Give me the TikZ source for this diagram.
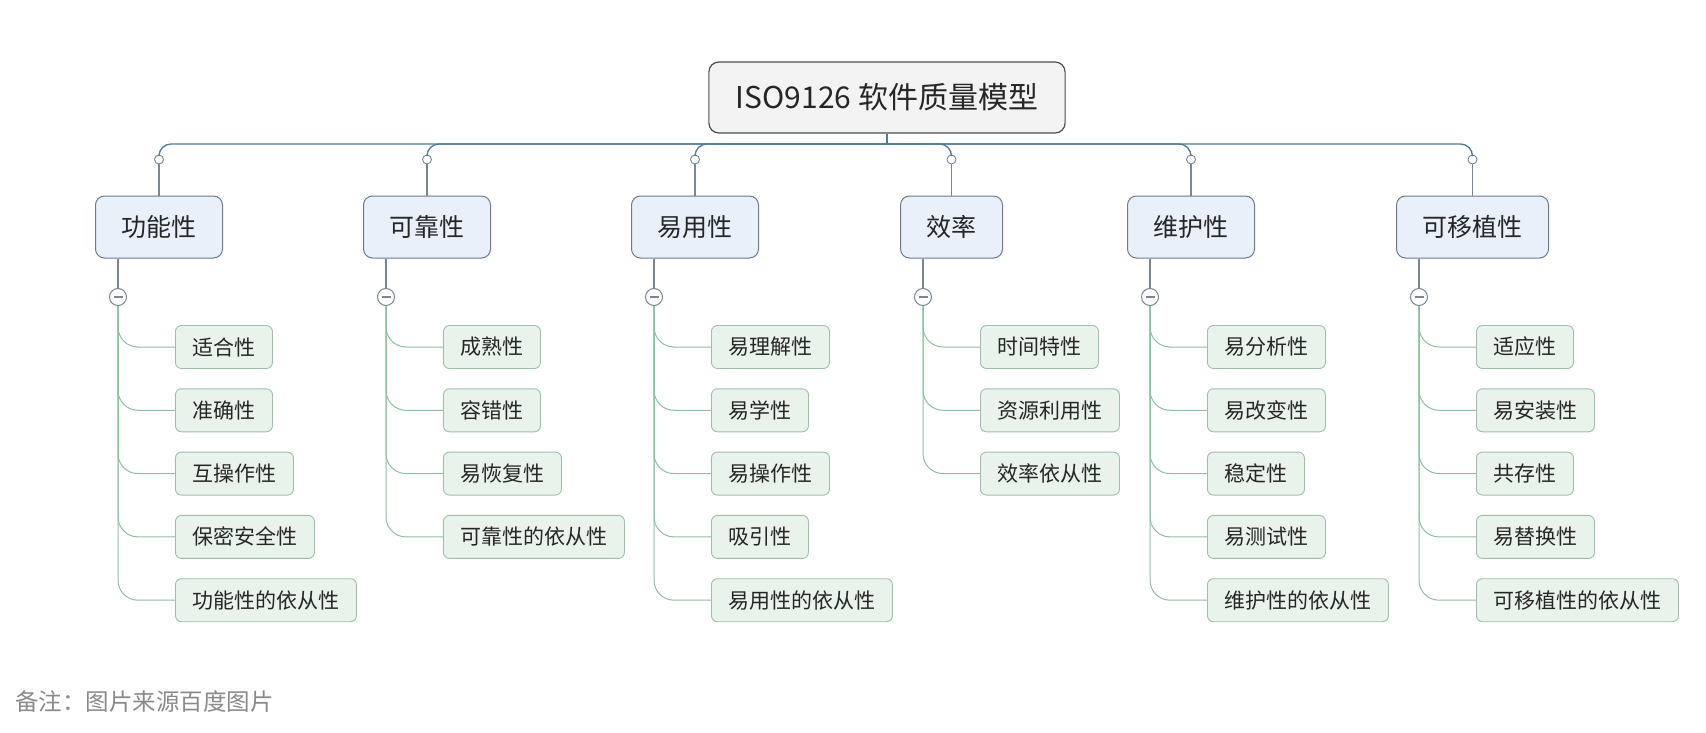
\documentclass[tikz,border=0pt]{standalone}
\usepackage{fontspec}
\setmainfont{Noto Sans CJK SC}
\definecolor{rootborder}{HTML}{4D4D4D}
\definecolor{rootfill}{HTML}{F3F3F3}
\definecolor{catborder}{HTML}{6B7A8C}
\definecolor{catfill}{HTML}{EAF0F9}
\definecolor{leafborder}{HTML}{9FBFAA}
\definecolor{leaffill}{HTML}{E9F3EC}
\definecolor{buscol}{HTML}{4F7A99}
\definecolor{stemcol}{HTML}{7A8790}
\definecolor{leafcol}{HTML}{8FBFA0}
\definecolor{textc}{HTML}{262626}
\definecolor{notec}{HTML}{8A8A8A}
\begin{document}
\begin{tikzpicture}[x=1pt,y=-1pt,
  rootbox/.style={draw=rootborder, fill=rootfill, rounded corners=10pt, line width=1.2pt,
    minimum height=71pt, inner xsep=27pt, font=\fontsize{30}{36}\selectfont, text=textc},
  catbox/.style={draw=catborder, fill=catfill, rounded corners=9pt, line width=1pt,
    minimum height=62pt, inner xsep=26pt, font=\fontsize{25}{30}\selectfont, text=textc, anchor=west},
  leafbox/.style={draw=leafborder, fill=leaffill, rounded corners=6pt, line width=0.9pt,
    minimum height=43pt, inner xsep=17pt, font=\fontsize{21}{25}\selectfont, text=textc, anchor=west},
  knob/.style={circle, draw=stemcol, fill=white, line width=0.9pt, minimum size=9pt, inner sep=0pt},
  minusknob/.style={circle, draw=stemcol, fill=white, line width=1pt, minimum size=17pt, inner sep=0pt,
    path picture={\draw[line width=1.8pt, stemcol] ([xshift=-4.5pt]path picture bounding box.center) -- ([xshift=4.5pt]path picture bounding box.center);}},
  busline/.style={draw=buscol, line width=1.3pt},
  stemline/.style={draw=stemcol, line width=1.1pt},
  leafline/.style={draw=leafcol, line width=1pt, rounded corners=20pt}
]
\useasboundingbox (0,0) rectangle (1706,733);

\node[rootbox] (root) at (887,97.5) {ISO9126 软件质量模型};
\coordinate (bus) at (887,144);
\draw[busline] (root.south) -- (bus);

\foreach \i/\L/\name/\kids in {
  1/95/功能性/{适合性,准确性,互操作性,保密安全性,功能性的依从性},
  2/363/可靠性/{成熟性,容错性,易恢复性,可靠性的依从性},
  3/631/易用性/{易理解性,易学性,易操作性,吸引性,易用性的依从性},
  4/900/效率/{时间特性,资源利用性,效率依从性},
  5/1127/维护性/{易分析性,易改变性,稳定性,易测试性,维护性的依从性},
  6/1396/可移植性/{适应性,易安装性,共存性,易替换性,可移植性的依从性}}{
  \node[catbox] (c\i) at (\L,227) {\name};
  \path (c\i.north) ++(0,-36) node[knob] (o\i) {};
  \path (c\i.west) ++(23,70) node[minusknob] (m\i) {};
  \draw[busline, rounded corners=12pt] (bus) -| (o\i.north);
  \draw[stemline] (o\i.south) -- (c\i.north);
  \draw[stemline] (c\i.south -| m\i) -- (m\i.north);
  \foreach \t [count=\j] in \kids {
    \path (c\i.west) ++(80,{120+63.3*(\j-1)}) node[leafbox] (l\i-\j) {\t};
    \draw[leafline] (m\i.south) |- (l\i-\j.west);
  }
}

\node[anchor=west, inner sep=0pt, text=notec, font=\fontsize{23.5}{28}\selectfont] (note) at (15,702) {备注：图片来源百度图片};
\end{tikzpicture}
\end{document}
